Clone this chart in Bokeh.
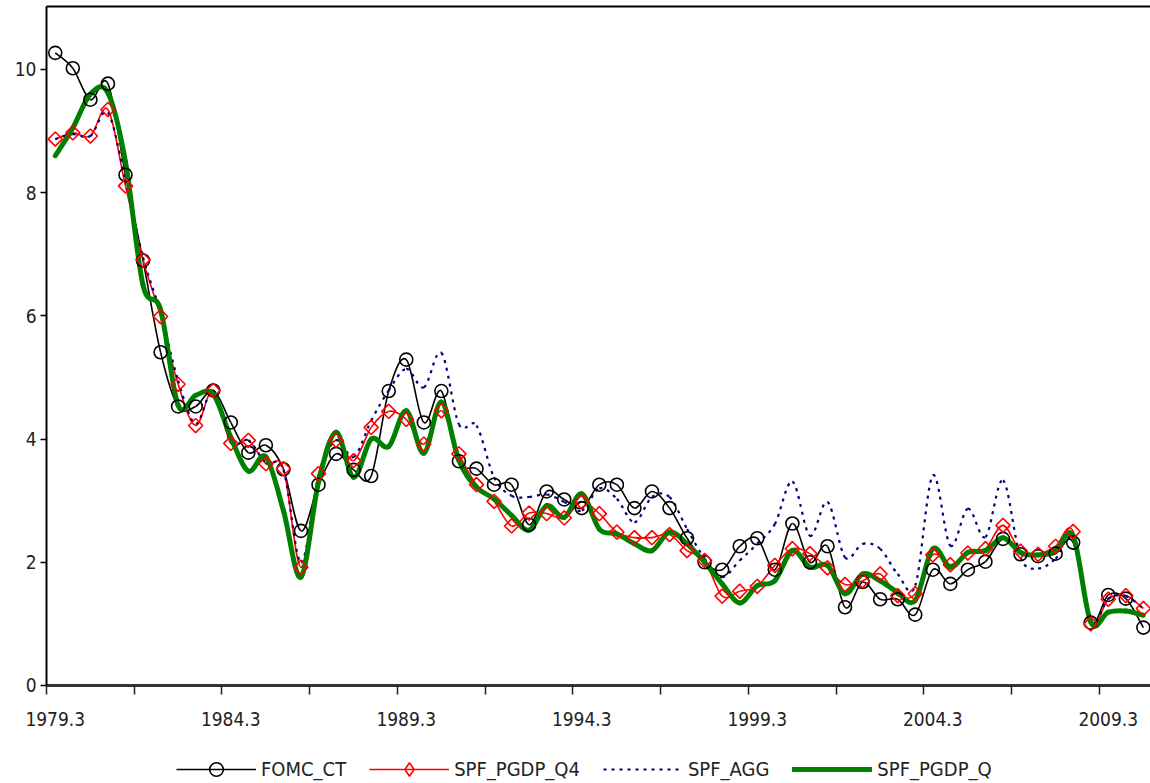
import numpy as np
from bokeh.plotting import figure
from bokeh.models import (FixedTicker, Legend, LegendItem, Range1d, LinearAxis,
                          ColumnDataSource, CDSView, IndexFilter)
from bokeh.embed import file_html
from bokeh.resources import INLINE

# ---- data (semi-annual observations, first = 1979.3) ----
tick_labels = ["1979.3", "1984.3", "1989.3", "1994.3", "1999.3", "2004.3", "2009.3"]
obs_per_label = 10
obs_per_tick = 5
y_ticks = [0, 2, 4, 6, 8, 10]

fomc_ct = [10.27, 10.02, 9.51, 9.77, 8.29, 6.90, 5.41, 4.53, 4.53, 4.79,
           4.27, 3.78, 3.90, 3.51, 2.51, 3.26, 3.76, 3.50, 3.40, 4.78,
           5.29, 4.27, 4.78, 3.64, 3.52, 3.26, 3.26, 2.61, 3.15, 3.02,
           2.88, 3.26, 3.26, 2.88, 3.15, 2.88, 2.39, 2.00, 1.88, 2.26,
           2.39, 1.88, 2.63, 2.00, 2.26, 1.27, 1.68, 1.40, 1.40, 1.15,
           1.88, 1.65, 1.88, 2.01, 2.38, 2.13, 2.10, 2.14, 2.32, 1.02,
           1.47, 1.41, 0.94]

spf_pgdp_q4 = [8.87, 8.97, 8.92, 9.35, 8.11, 6.91, 5.99, 4.89, 4.22, 4.79,
               3.93, 3.98, 3.60, 3.52, 1.92, 3.44, 3.98, 3.65, 4.19, 4.45,
               4.32, 3.92, 4.46, 3.76, 3.26, 2.99, 2.59, 2.80, 2.79, 2.72,
               2.98, 2.79, 2.49, 2.40, 2.40, 2.45, 2.19, 2.03, 1.45, 1.53,
               1.61, 1.95, 2.22, 2.14, 1.91, 1.64, 1.70, 1.81, 1.46, 1.49,
               2.12, 1.96, 2.15, 2.22, 2.60, 2.18, 2.13, 2.26, 2.50, 1.00,
               1.40, 1.46, 1.25]

spf_agg = [8.87, 8.95, 8.92, 9.30, 8.20, 6.95, 6.05, 4.95, 4.25, 4.79,
           3.95, 3.98, 3.62, 3.50, 2.00, 3.40, 3.98, 3.71, 4.30, 4.79,
           5.14, 4.84, 5.40, 4.24, 4.22, 3.38, 3.08, 3.06, 3.10, 2.98,
           2.84, 3.20, 3.03, 2.65, 3.06, 3.06, 2.54, 2.06, 1.76, 2.03,
           2.30, 2.62, 3.31, 2.43, 2.98, 2.08, 2.30, 2.22, 1.81, 1.62,
           3.41, 2.27, 2.87, 2.41, 3.33, 2.08, 1.90, 2.06, 2.40, 1.03,
           1.41, 1.45, 1.25]

spf_pgdp_q = [8.60, 9.05, 9.60, 9.62, 8.50, 6.50, 6.10, 4.55, 4.71, 4.73,
              4.03, 3.48, 3.71, 2.84, 1.76, 3.30, 4.11, 3.38, 4.00, 3.88,
              4.46, 3.77, 4.60, 3.65, 3.22, 3.03, 2.76, 2.52, 2.92, 2.73,
              3.11, 2.54, 2.46, 2.30, 2.19, 2.49, 2.30, 2.00, 1.65, 1.34,
              1.62, 1.70, 2.19, 1.92, 1.95, 1.49, 1.81, 1.70, 1.51, 1.38,
              2.22, 1.92, 2.16, 2.19, 2.40, 2.16, 2.12, 2.19, 2.43, 1.03,
              1.19, 1.21, 1.14]

n = len(fomc_ct)
xs = np.arange(n, dtype=float)

FONT = "'Liberation Sans Narrow', 'Arial Narrow', 'DejaVu Sans Condensed', sans-serif"


def smooth_segments(x, y):
    """Cubic Bezier segments through the points (Catmull-Rom style smoothing)."""
    x = np.asarray(x, float)
    y = np.asarray(y, float)
    xp = np.concatenate([[x[0]], x, [x[-1]]])
    yp = np.concatenate([[y[0]], y, [y[-1]]])
    m = len(x)
    return dict(
        x0=x[:-1], y0=y[:-1], x1=x[1:], y1=y[1:],
        cx0=x[:-1] + (xp[2:m + 1] - xp[0:m - 1]) / 6.0,
        cy0=y[:-1] + (yp[2:m + 1] - yp[0:m - 1]) / 6.0,
        cx1=x[1:] - (xp[3:m + 2] - xp[1:m]) / 6.0,
        cy1=y[1:] - (yp[3:m + 2] - yp[1:m]) / 6.0,
    )


# plotting region: axes are drawn at fixed data positions inside one frame
X_FIRST = -0.5                 # left edge of first observation
X_START, X_END = -3.121, 62.406
Y_FRAME_TOP = 11.02
Y_START, Y_END = -1.591, 11.12

p = figure(width=1150, height=783,
           x_range=Range1d(X_START, X_END), y_range=Range1d(Y_START, Y_END),
           output_backend="svg", toolbar_location=None,
           x_axis_location=None, y_axis_location=None,
           min_border_left=0, min_border_right=0, min_border_top=0,
           min_border_bottom=0)
p.outline_line_color = None
p.xgrid.visible = False
p.ygrid.visible = False
p.background_fill_color = "white"
p.border_fill_color = "white"

BLACK = dict(line_color="black", line_width=1.6)
RED = dict(line_color="#FF0000", line_width=1.6)
NAVY = dict(line_color="#000080", line_width=2.2, line_dash="3 5")
GREEN = dict(line_color="#008000", line_width=5, line_cap="round")

# smoothed lines
b_fomc = p.bezier(**smooth_segments(xs, fomc_ct), **BLACK)
b_q4 = p.bezier(**smooth_segments(xs, spf_pgdp_q4), **RED)
b_agg = p.bezier(**smooth_segments(xs, spf_agg), **NAVY)
b_q = p.bezier(**smooth_segments(xs, spf_pgdp_q), **GREEN)

# markers
m_fomc = p.scatter(xs, fomc_ct, marker="circle", size=13, fill_color=None,
                   line_color="black", line_width=1.6)
m_q4 = p.scatter(xs, spf_pgdp_q4, marker="square", angle=np.pi / 4, size=10,
                 fill_color=None, line_color="#FF0000", line_width=1.6)
# diamond key for the legend entry (legend sizes it itself; in the plot it is
# only a zero-size point hidden under the first diamond)
q4_src = ColumnDataSource(dict(x=xs, y=spf_pgdp_q4))
m_q4_key = p.scatter("x", "y", source=q4_src, view=CDSView(filter=IndexFilter([0])),
                     marker="diamond", size=0, fill_color=None,
                     line_color="#FF0000", line_width=1.6)

# top frame line
top = LinearAxis(fixed_location=Y_FRAME_TOP, ticker=FixedTicker(ticks=[]),
                 bounds=(X_FIRST, X_END), axis_line_color="black",
                 axis_line_width=2, major_tick_line_color=None,
                 minor_tick_line_color=None)
p.add_layout(top, "above")

# x axis drawn at y = 0: labels under the first observation of each period,
# tick marks on period boundaries every 5 observations
label_pos = [float(obs_per_label * k) for k in range(len(tick_labels))]
boundaries = [X_FIRST + obs_per_tick * k for k in range(2 * len(tick_labels) - 1)]
xa = LinearAxis(fixed_location=0, bounds=(X_FIRST, X_END))
xa.ticker = FixedTicker(ticks=label_pos, minor_ticks=boundaries)
xa.major_label_overrides = {t: lab for t, lab in zip(label_pos, tick_labels)}
xa.major_tick_in = 0
xa.major_tick_out = 9
xa.minor_tick_in = 0
xa.minor_tick_out = 9
xa.major_tick_line_color = None
xa.minor_tick_line_color = "#222222"
xa.minor_tick_line_width = 1.5
xa.axis_line_color = "#333333"
xa.axis_line_width = 3
xa.major_label_standoff = 18
xa.major_label_text_font = FONT
xa.major_label_text_font_size = "19px"
xa.major_label_text_color = "#222222"
p.add_layout(xa, "below")

# y axis drawn at the left edge of the first observation
ya = LinearAxis(fixed_location=X_FIRST, bounds=(0, Y_FRAME_TOP))
ya.ticker = FixedTicker(ticks=y_ticks)
ya.minor_tick_line_color = None
ya.major_tick_in = 0
ya.major_tick_out = 6
ya.major_tick_line_color = "black"
ya.major_tick_line_width = 1.5
ya.axis_line_color = "black"
ya.axis_line_width = 2
ya.major_label_standoff = 4
ya.major_label_text_font = FONT
ya.major_label_text_font_size = "19px"
ya.major_label_text_color = "#222222"
p.add_layout(ya, "left")

legend = Legend(items=[
    LegendItem(label="FOMC_CT", renderers=[b_fomc, m_fomc]),
    LegendItem(label="SPF_PGDP_Q4", renderers=[b_q4, m_q4_key]),
    LegendItem(label="SPF_AGG", renderers=[b_agg]),
    LegendItem(label="SPF_PGDP_Q", renderers=[b_q]),
], orientation="horizontal", location=(176, -3))
legend.glyph_width = 80
legend.glyph_height = 34
legend.label_standoff = 5
legend.spacing = 23
legend.padding = 0
legend.margin = 0
legend.border_line_color = None
legend.background_fill_alpha = 0
legend.label_text_font = FONT
legend.label_text_font_size = "20px"
legend.label_text_color = "#222222"
p.add_layout(legend, "center")

open("out.html", "w").write(file_html(p, INLINE))
